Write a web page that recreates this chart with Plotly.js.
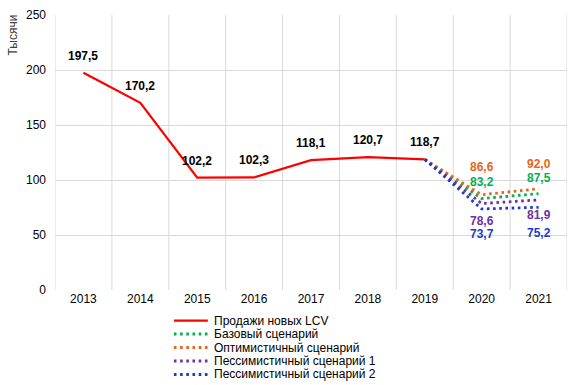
<!DOCTYPE html>
<html>
<head>
<meta charset="utf-8">
<script src="https://cdn.plot.ly/plotly-3.0.1.min.js"></script>
<style>html,body{margin:0;padding:0;background:#fff;}#chart{width:578px;height:385px;}</style>
</head>
<body>
<div id="chart"></div>
<script>
// ---- data ----
const years = ['2013','2014','2015','2016','2017','2018','2019','2020','2021'];
const salesYears = ['2013','2014','2015','2016','2017','2018','2019'];
const salesValues = [197.5, 170.2, 102.2, 102.3, 118.1, 120.7, 118.7];
const scenarioYears = ['2019','2020','2021'];
const baseValues = [118.7, 83.2, 87.5];
const optimisticValues = [118.7, 86.6, 92.0];
const pessimistic1Values = [118.7, 78.6, 81.9];
const pessimistic2Values = [118.7, 73.7, 75.2];
const seriesNames = ['Продажи новых LCV', 'Базовый сценарий', 'Оптимистичный сценарий', 'Пессимистичный сценарий 1', 'Пессимистичный сценарий 2'];
const yTicks = [0, 50, 100, 150, 200, 250];
const yAxisTitle = 'Тысячи';

// ---- styles ----
const colors = ['#FF0000', '#00B050', '#E8641B', '#7030A0', '#1A3AD0'];
const dotDash = '2.6px,3.6px';
// label offsets (pixels, downward) for scenario labels at 2020 and 2021
const scenarioLabelShift = {
  base: [-16, -16],
  optimistic: [-28, -25],
  pess1: [17, 15],
  pess2: [25, 26]
};

const fmt = v => v.toFixed(1).replace('.', ',');
const idx = yr => years.indexOf(yr);

const traces = [
  {x: salesYears, y: salesValues, name: seriesNames[0], mode: 'lines',
   line: {color: colors[0], width: 2.25}},
  {x: scenarioYears, y: baseValues, name: seriesNames[1], mode: 'lines',
   line: {color: colors[1], width: 2.8, dash: dotDash}},
  {x: scenarioYears, y: optimisticValues, name: seriesNames[2], mode: 'lines',
   line: {color: colors[2], width: 2.8, dash: dotDash}},
  {x: scenarioYears, y: pessimistic1Values, name: seriesNames[3], mode: 'lines',
   line: {color: colors[3], width: 2.8, dash: dotDash}},
  {x: scenarioYears, y: pessimistic2Values, name: seriesNames[4], mode: 'lines',
   line: {color: colors[4], width: 2.8, dash: dotDash}}
];

const FONT = 'Liberation Sans, Arial, sans-serif';
const annotations = [];
salesYears.forEach((yr, i) => {
  annotations.push({x: idx(yr), y: salesValues[i], xref: 'x', yref: 'y', text: '<b>' + fmt(salesValues[i]) + '</b>',
    showarrow: false, yshift: 17, xanchor: 'center', yanchor: 'middle', font: {family: FONT, size: 12, color: '#000000'}});
});
const scen = [
  [baseValues, colors[1], scenarioLabelShift.base],
  [optimisticValues, colors[2], scenarioLabelShift.optimistic],
  [pessimistic1Values, colors[3], scenarioLabelShift.pess1],
  [pessimistic2Values, colors[4], scenarioLabelShift.pess2]
];
scen.forEach(([vals, c, sh]) => {
  for (let k = 1; k < scenarioYears.length; k++) {
    annotations.push({x: idx(scenarioYears[k]), y: vals[k], xref: 'x', yref: 'y', text: '<b>' + fmt(vals[k]) + '</b>',
      showarrow: false, yshift: -sh[k - 1], xanchor: 'center', yanchor: 'middle', font: {family: FONT, size: 12, color: c}});
  }
});

// geometry helpers (pixels -> paper)
const L = 55, R = 567.5, T = 15, B = 290;
const px = x => (x - L) / (R - L);
const py = y => (B - y) / (B - T);

annotations.push({xref: 'paper', yref: 'paper', x: px(12), y: py(35.5), xanchor: 'center', yanchor: 'middle',
  text: yAxisTitle, textangle: -90, showarrow: false, font: {family: FONT, size: 12, color: '#404040'}});

// compact legend
const shapes = [];
const legY0 = 320.5, legStep = 13.5;
seriesNames.forEach((n, i) => {
  const yy = py(legY0 + i * legStep);
  shapes.push({type: 'line', xref: 'paper', yref: 'paper', x0: px(174), x1: px(208), y0: yy, y1: yy,
    line: {color: colors[i], width: i === 0 ? 2.25 : 2.8, dash: i === 0 ? 'solid' : dotDash}});
  annotations.push({xref: 'paper', yref: 'paper', x: px(212), y: yy, xanchor: 'left', yanchor: 'middle',
    text: n, showarrow: false, font: {family: FONT, size: 12, color: '#000000'}});
});

const layout = {
  width: 578, height: 385,
  margin: {l: L, r: 578 - R, t: T, b: 385 - B},
  paper_bgcolor: '#ffffff', plot_bgcolor: '#ffffff',
  showlegend: false,
  font: {family: FONT, size: 12, color: '#000000'},
  xaxis: {type: 'category', categoryorder: 'array', categoryarray: years, range: [-0.5, years.length - 0.5],
    showgrid: false, zeroline: false, showline: false, ticks: '', tickfont: {size: 12, color: '#000'}},
  yaxis: {range: [0, 250], tickvals: yTicks, showgrid: true, gridcolor: '#D9D9D9', gridwidth: 1,
    zeroline: false, showline: false, ticks: '', ticklabelstandoff: 8, tickfont: {size: 12, color: '#000'}},
  annotations: annotations,
  shapes: shapes.concat(
    years.concat(['end']).map((_, i) => ({type: 'line', xref: 'x', yref: 'paper', x0: i - 0.5, x1: i - 0.5, y0: 0, y1: 1,
      line: {color: '#D9D9D9', width: 1}, layer: 'below'}))
  )
};

Plotly.newPlot('chart', traces, layout, {staticPlot: true, displayModeBar: false});
</script>
</body>
</html>
